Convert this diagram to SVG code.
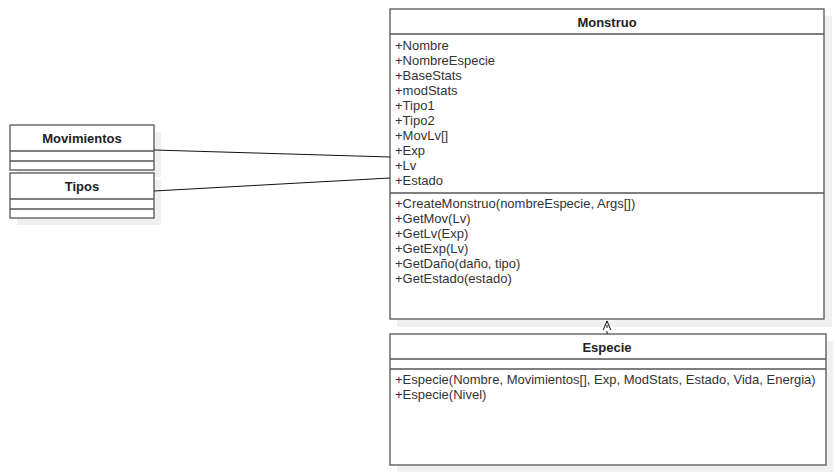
<svg xmlns="http://www.w3.org/2000/svg" width="836" height="476" viewBox="0 0 836 476">
<defs>
<style>
.shadow{fill:#f0f0f0;stroke:none}
.box{fill:#fff;stroke:#555;stroke-width:1.3}
.div{stroke:#555;stroke-width:1.3;fill:none}
.title{font-family:"Liberation Sans",Arial,sans-serif;font-size:13px;font-weight:bold;fill:#222;text-anchor:middle}
.txt{font-family:"Liberation Sans",Arial,sans-serif;font-size:13px;fill:#333}
.conn{stroke:#111;stroke-width:1;fill:none}
</style>
<marker id="open" viewBox="0 0 12 12" refX="10" refY="6" markerWidth="12" markerHeight="12" markerUnits="userSpaceOnUse" orient="auto">
<path d="M1,2.2 L10,6 L1,9.8" fill="none" stroke="#111" stroke-width="1"/>
</marker>
</defs>
<rect width="836" height="476" fill="#fff"/>

<g id="monstruo">
<rect class="shadow" x="397" y="16" width="435" height="311"/>
<rect class="box" x="390" y="9" width="434" height="310"/>
<line class="div" x1="390" y1="34" x2="824" y2="34"/>
<line class="div" x1="390" y1="193" x2="824" y2="193"/>
<text class="title" x="607" y="27">Monstruo</text>
<text class="txt" x="395" y="50">+Nombre</text>
<text class="txt" x="395" y="65">+NombreEspecie</text>
<text class="txt" x="395" y="80">+BaseStats</text>
<text class="txt" x="395" y="95">+modStats</text>
<text class="txt" x="395" y="110">+Tipo1</text>
<text class="txt" x="395" y="125">+Tipo2</text>
<text class="txt" x="395" y="140">+MovLv[]</text>
<text class="txt" x="395" y="155">+Exp</text>
<text class="txt" x="395" y="170">+Lv</text>
<text class="txt" x="395" y="185">+Estado</text>
<text class="txt" x="395" y="208">+CreateMonstruo(nombreEspecie, Args[])</text>
<text class="txt" x="395" y="223">+GetMov(Lv)</text>
<text class="txt" x="395" y="238">+GetLv(Exp)</text>
<text class="txt" x="395" y="253">+GetExp(Lv)</text>
<text class="txt" x="395" y="268">+GetDaño(daño, tipo)</text>
<text class="txt" x="395" y="283">+GetEstado(estado)</text>
</g>

<g id="especie">
<rect class="shadow" x="397" y="341" width="436" height="131"/>
<rect class="box" x="390" y="334" width="436" height="131"/>
<line class="div" x1="390" y1="359" x2="826" y2="359"/>
<line class="div" x1="390" y1="369" x2="826" y2="369"/>
<text class="title" x="607" y="352">Especie</text>
<text class="txt" x="395" y="384">+Especie(Nombre, Movimientos[], Exp, ModStats, Estado, Vida, Energia)</text>
<text class="txt" x="395" y="399">+Especie(Nivel)</text>
</g>

<g id="movimientos">
<rect class="shadow" x="17" y="132" width="144" height="45"/>
<rect class="box" x="10" y="125" width="144" height="45"/>
<line class="div" x1="10" y1="151" x2="154" y2="151"/>
<line class="div" x1="10" y1="161" x2="154" y2="161"/>
<text class="title" x="82" y="143">Movimientos</text>
</g>

<g id="tipos">
<rect class="shadow" x="17" y="180" width="144" height="45"/>
<rect class="box" x="10" y="173" width="144" height="45"/>
<line class="div" x1="10" y1="199" x2="154" y2="199"/>
<line class="div" x1="10" y1="209" x2="154" y2="209"/>
<text class="title" x="82" y="191">Tipos</text>
</g>

<g id="connectors">
<line class="conn" x1="154" y1="150" x2="390" y2="157"/>
<line class="conn" x1="154" y1="191" x2="390" y2="178"/>
<line class="conn" x1="607" y1="334" x2="607" y2="321" stroke-dasharray="3,3" marker-end="url(#open)"/>
</g>
</svg>
